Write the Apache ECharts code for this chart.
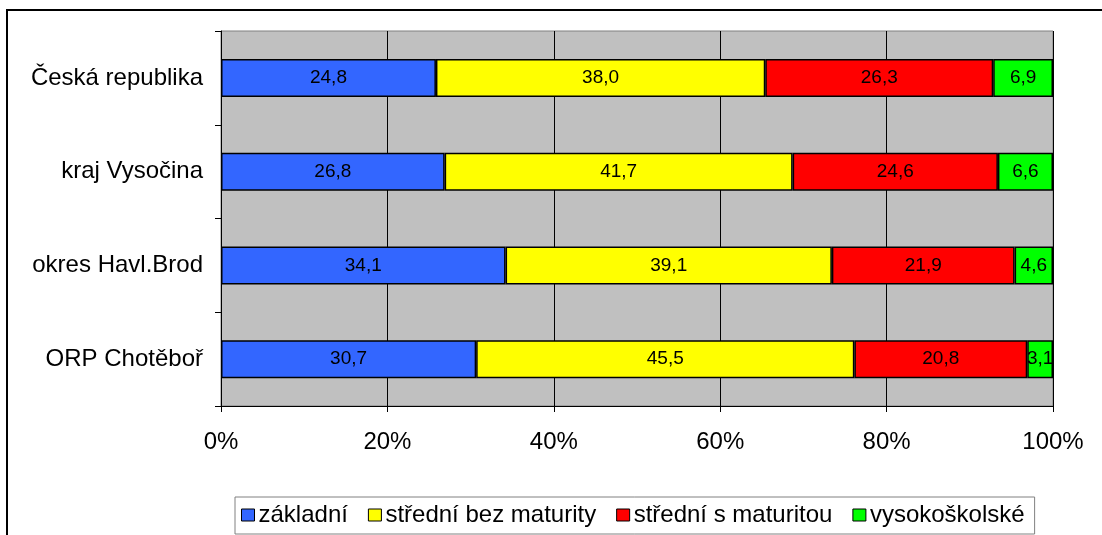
<!DOCTYPE html>
<html>
<head>
<meta charset="utf-8">
<script src="https://cdn.jsdelivr.net/npm/echarts@6/dist/echarts.min.js"></script>
<style>
  html, body { margin: 0; padding: 0; background: #fff; }
  #chart { width: 1102px; height: 535px; }
</style>
</head>
<body>
<div id="chart"></div>
<script>
const categories = ['Česká republika', 'kraj Vysočina', 'okres Havl.Brod', 'ORP Chotěboř'];
const seriesNames = ['základní', 'střední bez maturity', 'střední s maturitou', 'vysokoškolské'];
const zakladni = [24.8, 26.8, 34.1, 30.7];
const stredniBez = [38.0, 41.7, 39.1, 45.5];
const stredniS = [26.3, 24.6, 21.9, 20.8];
const vysokoskolske = [6.9, 6.6, 4.6, 3.1];
const xTicks = [0, 20, 40, 60, 80, 100];

const colors = ['#3366FF', '#FFFF00', '#FF0000', '#00FF00'];
const raw = [zakladni, stredniBez, stredniS, vysokoskolske];

// 100% stacked: normalise each row to its total
const totals = categories.map((c, i) => raw.reduce((s, arr) => s + arr[i], 0));

const fontFamily = '"Liberation Sans", Arial, sans-serif';

const chart = echarts.init(document.getElementById('chart'));

const option = {
  animation: false,
  textStyle: { fontFamily: fontFamily },
  graphic: [
    {
      type: 'rect',
      shape: { x: 7, y: 10, width: 1200, height: 700 },
      style: { fill: 'none', stroke: '#000', lineWidth: 2 },
      silent: true
    }
  ],
  grid: {
    left: 221,
    right: 49,
    top: 31,
    bottom: 129,
    show: true,
    backgroundColor: '#C0C0C0',
    borderColor: '#808080',
    borderWidth: 1
  },
  legend: {
    left: 235,
    top: 497,
    padding: [6, 10, 7, 6],
    borderColor: '#808080',
    borderWidth: 1,
    itemWidth: 13,
    itemHeight: 12,
    itemGap: 20,
    icon: 'rect',
    textStyle: { fontSize: 24, color: '#000', fontFamily: fontFamily, padding: [0, 0, 0, -1] },
    itemStyle: { borderColor: '#000', borderWidth: 1 },
    data: seriesNames
  },
  xAxis: {
    type: 'value',
    min: 0,
    max: 100,
    interval: 20,
    axisLine: { show: true, lineStyle: { color: '#000', width: 1 } },
    axisTick: { show: true, length: 6, lineStyle: { color: '#000' } },
    axisLabel: {
      margin: 24,
      fontSize: 24,
      color: '#000',
      formatter: v => xTicks.includes(v) ? v + '%' : ''
    },
    splitLine: { show: true, lineStyle: { color: '#000', width: 1 } }
  },
  yAxis: {
    type: 'category',
    inverse: true,
    data: categories,
    axisLine: { show: true, lineStyle: { color: '#000', width: 1 } },
    axisTick: { show: true, length: 6, inside: false, lineStyle: { color: '#000' } },
    axisLabel: { margin: 18, fontSize: 24, color: '#000' }
  },
  series: raw.map((arr, k) => ({
    name: seriesNames[k],
    type: 'bar',
    stack: 'total',
    barWidth: 38,
    itemStyle: { color: colors[k], borderColor: '#000', borderWidth: 1.5 },
    label: {
      show: true,
      position: 'inside',
      color: '#000',
      fontSize: 19,
      fontFamily: fontFamily,
      formatter: p => arr[p.dataIndex].toFixed(1).replace('.', ',')
    },
    data: arr.map((v, i) => v / totals[i] * 100)
  }))
};

chart.setOption(option);
</script>
</body>
</html>
